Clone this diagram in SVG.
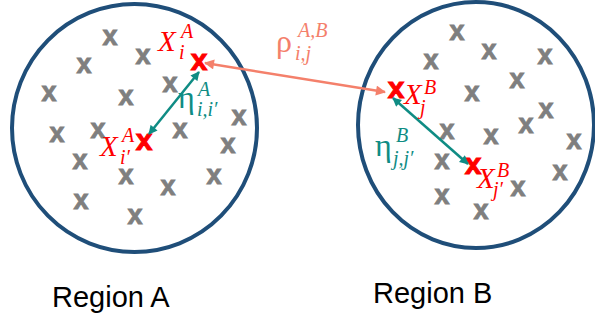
<svg xmlns="http://www.w3.org/2000/svg" width="595" height="320" viewBox="0 0 595 320">
<style>
.region{fill:none;stroke:#1F4E79;stroke-width:4}
.gx{font-family:"Liberation Sans",Arial,sans-serif;font-weight:bold;font-size:27px;fill:#7F7F7F;stroke:#7F7F7F;stroke-width:0.9;text-anchor:middle}
.rx{font-family:"Liberation Sans",Arial,sans-serif;font-weight:bold;font-size:30px;fill:#FF0000;stroke:#FF0000;stroke-width:1;text-anchor:middle}
.m{font-family:"Liberation Serif","Times New Roman",serif;font-style:italic;font-size:29px}
.sm{font-size:20px}
.eta{font-style:normal;font-size:32px}
.red{fill:#FF0000}
.teal{fill:#0F8C84}
.sal{fill:#F4806B}
.lbl{font-family:"Liberation Sans",Arial,sans-serif;font-size:29px;fill:#000}
</style>
<defs>
<marker id="ahT" viewBox="0 0 10 10" refX="9" refY="5" markerWidth="10" markerHeight="9" markerUnits="userSpaceOnUse" orient="auto-start-reverse"><path d="M0,0 L10,5 L0,10 z" fill="#0F8C84"/></marker>
<marker id="ahS" viewBox="0 0 10 10" refX="9" refY="5" markerWidth="11" markerHeight="10" markerUnits="userSpaceOnUse" orient="auto-start-reverse"><path d="M0,0 L10,5 L0,10 z" fill="#F4806B"/></marker>
</defs>
<rect width="595" height="320" fill="#FFFFFF"/>
<g id="regionA">
<ellipse class="region" cx="134.5" cy="128" rx="122.5" ry="124"/>
<g class="gx">
<text x="110" y="45">x</text><text x="143" y="64">x</text><text x="84" y="73">x</text><text x="170" y="92">x</text>
<text x="49" y="101">x</text><text x="126" y="105">x</text><text x="239" y="125">x</text><text x="57" y="142">x</text>
<text x="98" y="138">x</text><text x="180" y="138">x</text><text x="228" y="153">x</text><text x="80" y="169">x</text>
<text x="126" y="184">x</text><text x="168" y="195">x</text><text x="214" y="184">x</text><text x="81" y="209">x</text>
<text x="135" y="224">x</text>
</g>
<text class="rx" x="199" y="70">x</text>
<text class="rx" x="144" y="150">x</text>
<text class="lbl" x="52" y="307">Region A</text>
</g>
<g id="regionB">
<ellipse class="region" cx="476" cy="125" rx="118" ry="123"/>
<g class="gx">
<text x="457" y="40">x</text><text x="431" y="69">x</text><text x="489" y="59">x</text><text x="545" y="64">x</text>
<text x="517" y="88">x</text><text x="472" y="101">x</text><text x="546" y="118">x</text><text x="526" y="133">x</text>
<text x="447" y="139">x</text><text x="491" y="144">x</text><text x="574" y="149">x</text><text x="442" y="169">x</text>
<text x="560" y="180">x</text><text x="518" y="196">x</text><text x="442" y="204">x</text><text x="481" y="219">x</text>
</g>
<text class="rx" x="396" y="98">x</text>
<text class="rx" x="473" y="174">x</text>
<text class="lbl" x="373" y="303">Region B</text>
</g>
<g id="connectors" fill="none">
<line x1="205" y1="63" x2="385" y2="92" stroke="#F4806B" stroke-width="2.5" marker-start="url(#ahS)" marker-end="url(#ahS)"/>
<line x1="199" y1="72" x2="149" y2="134" stroke="#0F8C84" stroke-width="2.5" marker-start="url(#ahT)" marker-end="url(#ahT)"/>
<line x1="393" y1="98" x2="468" y2="164" stroke="#0F8C84" stroke-width="2.5" marker-start="url(#ahT)" marker-end="url(#ahT)"/>
</g>
<g id="labels">
<text class="m red"><tspan x="158" y="51">X</tspan><tspan class="sm" x="181" y="38">A</tspan><tspan class="sm" x="179" y="59">i</tspan></text>
<text class="m red"><tspan x="100" y="156">X</tspan><tspan class="sm" x="122" y="142">A</tspan><tspan class="sm" x="120" y="164">i′</tspan></text>
<text class="m teal"><tspan class="eta" x="178" y="108">η</tspan><tspan class="sm" x="198" y="96">A</tspan><tspan class="sm" x="197" y="116">i,i′</tspan></text>
<text class="m sal"><tspan class="eta" font-style="italic" x="276" y="52">ρ</tspan><tspan class="sm" x="298" y="37">A,B</tspan><tspan class="sm" x="295" y="60">i,j</tspan></text>
<text class="m red"><tspan x="404" y="104">X</tspan><tspan class="sm" x="424" y="94">B</tspan><tspan class="sm" x="420" y="114">j</tspan></text>
<text class="m teal"><tspan class="eta" x="375" y="156">η</tspan><tspan class="sm" x="396" y="142">B</tspan><tspan class="sm" x="393" y="165">j,j′</tspan></text>
<text class="m red"><tspan x="477" y="188">X</tspan><tspan class="sm" x="497" y="177">B</tspan><tspan class="sm" x="493" y="196">j′</tspan></text>
</g>
</svg>
